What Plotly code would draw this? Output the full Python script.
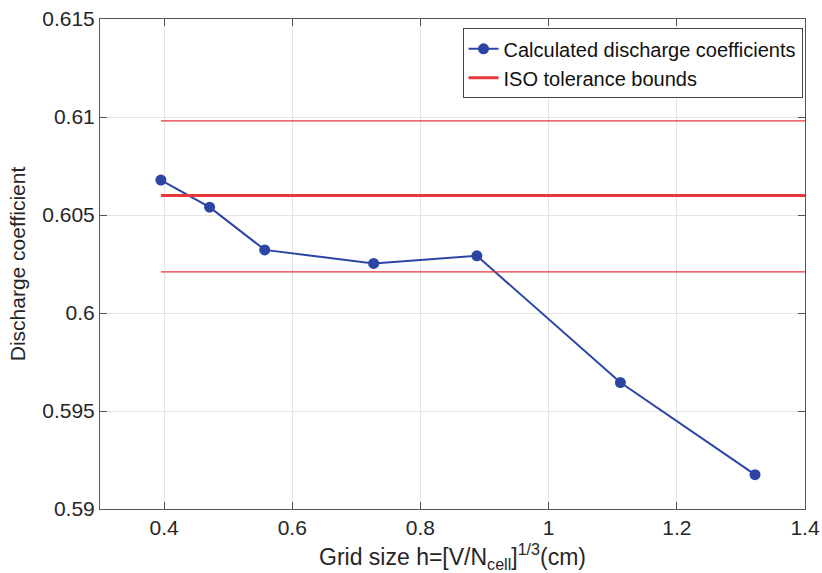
import plotly.graph_objects as go

# Grid size h = (V / N_cell)^(1/3) in cm, and the discharge coefficient computed at each grid
grid_size = [0.395, 0.471, 0.557, 0.727, 0.888, 1.112, 1.322]
discharge_coeff = [0.60678, 0.60540, 0.60322, 0.60253, 0.60292, 0.59645, 0.59175]

# ISO nominal value and tolerance bounds
iso_x = [0.395, 1.4]
iso_nominal = 0.6060
iso_upper = 0.6098
iso_lower = 0.6021

BLUE = "#2c45a5"
RED = "#e8363b"
FONT = "Liberation Sans, Arial, Helvetica, sans-serif"

fig = go.Figure()

fig.add_trace(go.Scatter(
    x=grid_size, y=discharge_coeff, mode="lines+markers",
    name="Calculated discharge coefficients",
    line=dict(color=BLUE, width=2),
    marker=dict(color=BLUE, size=11),
))
fig.add_trace(go.Scatter(
    x=iso_x, y=[iso_nominal] * 2, mode="lines",
    name="ISO tolerance bounds",
    line=dict(color=RED, width=3),
))
for bound in (iso_upper, iso_lower):
    fig.add_trace(go.Scatter(
        x=iso_x, y=[bound] * 2, mode="lines", showlegend=False,
        line=dict(color=RED, width=1.3),
    ))

axis_common = dict(
    showline=True, linecolor="#555555", linewidth=1,
    mirror="ticks", ticks="inside", ticklen=7, tickcolor="#555555",
    showgrid=True, gridcolor="#e3e3e3", gridwidth=1,
    zeroline=False, automargin=False,
    tickfont=dict(family=FONT, size=21, color="#262626"),
)

fig.update_xaxes(
    range=[0.3, 1.4], tickvals=[0.4, 0.6, 0.8, 1.0, 1.2, 1.4],
    ticktext=["0.4", "0.6", "0.8", "1", "1.2", "1.4"],
    title=dict(text="Grid size h=[V/N<sub>cell</sub>]<sup>1/3</sup>(cm)",
               font=dict(family=FONT, size=23, color="#262626"), standoff=10),
    **axis_common,
)
fig.update_yaxes(
    range=[0.59, 0.615], tickvals=[0.59, 0.595, 0.6, 0.605, 0.61, 0.615],
    ticktext=["0.59", "0.595", "0.6", "0.605", "0.61", "0.615"],
    title=dict(text="Discharge coefficient",
               font=dict(family=FONT, size=21, color="#262626"), standoff=10),
    **axis_common,
)

fig.update_layout(
    width=822, height=573,
    margin=dict(l=100, r=17, t=19, b=64),
    paper_bgcolor="white", plot_bgcolor="white",
    showlegend=True,
    legend=dict(
        x=0.9965, y=0.981, xanchor="right", yanchor="top",
        bgcolor="white", bordercolor="#444444", borderwidth=1,
        font=dict(family=FONT, size=20, color="#111111"),
        itemwidth=30, tracegroupgap=0,
    ),
)

fig.write_html("out.html")
